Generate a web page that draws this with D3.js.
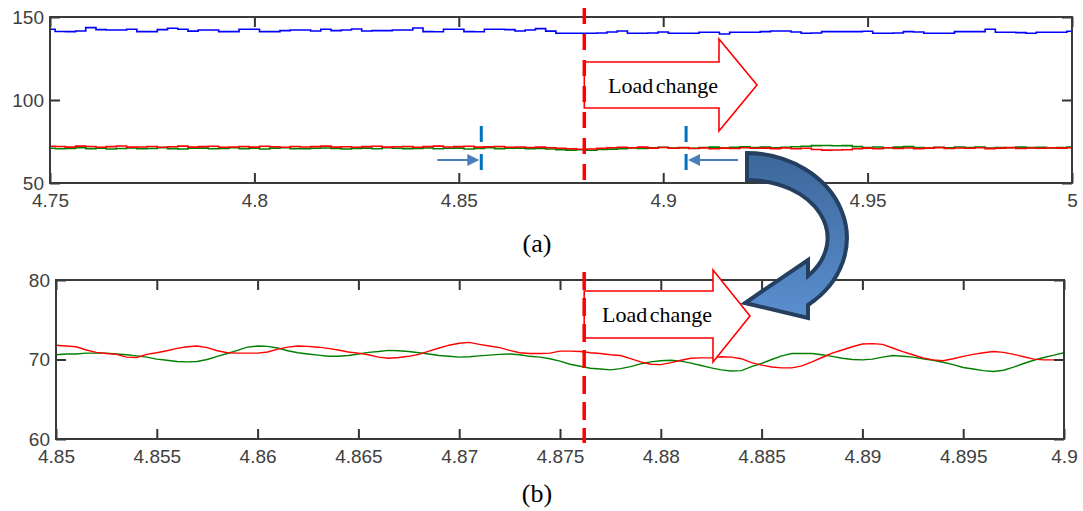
<!DOCTYPE html>
<html>
<head>
<meta charset="utf-8">
<script src="https://cdn.jsdelivr.net/npm/d3@7"></script>
<style>
  body { margin: 0; background: #fff; }
  svg { display: block; }
</style>
</head>
<body>
<div id="chart-container"></div>
<script>
/**************************************************
 * Data
 **************************************************/

// panel (a): samples every 0.0025 s from 4.75 to 5
const topStart = 4.75, topStep = 0.0025;
const blueTop = [
  142.6,141.3,141.2,141.6,143.6,142.4,142.2,142.2,142.6,141.2,
  141.2,142.4,143.2,142.6,141.5,142.2,142.2,141.2,141.2,142.6,
  142.6,141.2,141.2,141.8,142.2,142.2,141.6,142.6,141.8,142.2,
  142.8,141.6,141.8,141.8,142.2,142.2,143.4,141.2,141.1,142.6,
  142.6,141.2,141.1,142.6,142.6,142.4,141.6,142.2,143.0,141.5,
  140.2,140.2,140.2,140.2,140.4,141.0,141.6,140.2,140.2,140.4,
  141.0,140.2,140.2,140.2,140.8,140.8,139.8,140.8,140.8,140.8,
  141.2,141.6,141.6,141.0,140.2,140.4,141.2,141.2,141.2,141.2,
  141.4,140.2,140.2,140.4,141.2,141.0,140.2,140.2,140.2,141.2,
  141.2,141.2,142.6,140.8,140.8,140.6,140.2,140.8,140.8,140.8,
  141.4
];
const redTop = [
  72.1,72.0,71.6,72.2,72.0,71.5,71.9,72.3,71.6,71.7,
  72.0,71.5,71.8,72.2,71.6,71.9,72.1,71.5,71.7,72.0,
  71.6,72.1,71.8,71.5,72.0,71.7,71.9,72.2,71.6,71.8,
  71.5,71.9,72.1,71.6,71.8,72.0,71.5,71.9,72.2,71.7,
  71.9,72.1,71.6,71.8,72.0,71.5,71.7,71.4,71.6,71.2,
  70.9,70.6,70.3,70.5,70.9,71.2,71.5,71.2,71.6,71.0,
  71.4,70.9,71.2,70.8,71.1,70.6,71.0,70.8,71.2,70.9,
  71.0,70.7,71.1,70.6,70.9,70.2,69.8,69.9,70.0,70.6,
  71.0,70.6,71.2,70.8,71.1,70.7,71.0,71.3,70.8,71.1,
  70.9,71.2,70.7,71.0,71.3,70.8,71.1,70.9,71.2,71.0,
  71.2
];
const greenTop = [
  70.9,70.6,70.8,71.2,70.7,70.9,70.5,70.8,71.1,70.6,
  70.8,71.3,70.7,70.5,70.9,71.0,70.6,70.8,71.2,70.7,
  70.9,70.5,71.0,71.2,70.7,70.6,70.9,71.1,70.8,70.5,
  70.8,71.0,70.6,71.2,70.9,70.7,70.8,71.1,70.6,70.9,
  71.0,70.5,70.8,71.2,70.7,70.9,71.0,70.6,70.8,70.5,
  70.1,69.8,70.0,69.7,70.2,70.4,70.7,71.1,70.8,71.2,
  71.5,71.0,71.3,70.9,71.4,71.6,71.1,71.5,71.8,71.4,
  71.6,71.2,71.5,71.8,72.1,72.5,72.6,72.4,72.5,71.9,
  71.4,71.7,71.2,71.6,71.9,71.3,71.0,71.5,71.2,71.7,
  71.3,71.6,71.1,71.4,71.2,71.6,71.3,71.5,71.1,71.4,
  71.6
];

// panel (b): samples every 0.0005 s from 4.85 to 4.9
const botStart = 4.85, botStep = 0.0005;
const redBottom = [
  71.8,71.7,71.6,71.2,70.9,70.75,70.65,70.3,70.25,70.65,
  70.85,71.1,71.4,71.6,71.7,71.5,71.1,70.85,70.8,70.8,
  70.8,70.95,71.3,71.55,71.7,71.65,71.55,71.4,71.2,70.95,
  70.8,70.6,70.3,70.15,70.25,70.4,70.65,71.05,71.45,71.8,
  72.05,72.15,71.9,71.7,71.5,71.15,70.85,70.75,70.75,70.8,
  71.05,71.05,71.0,70.85,70.75,70.6,70.5,70.1,69.7,69.4,
  69.35,69.6,69.9,70.15,70.2,70.2,70.35,70.3,70.1,69.6,
  69.3,69.05,68.95,68.95,69.2,69.7,70.25,70.8,71.2,71.6,
  71.95,72.0,71.9,71.45,71.0,70.6,70.2,69.95,69.85,70.1,
  70.4,70.65,70.85,71.0,70.9,70.65,70.35,70.05,69.95,69.95,
  69.95
];
const greenBottom = [
  70.6,70.7,70.7,70.8,70.8,70.8,70.7,70.6,70.45,70.3,
  70.05,69.9,69.75,69.7,69.75,70.0,70.4,70.75,71.15,71.55,
  71.7,71.65,71.45,71.1,70.85,70.7,70.55,70.4,70.4,70.5,
  70.7,70.9,71.0,71.15,71.1,71.0,70.85,70.7,70.5,70.4,
  70.3,70.35,70.45,70.55,70.65,70.7,70.6,70.4,70.3,70.1,
  69.8,69.4,69.15,68.9,68.8,68.7,68.85,69.1,69.45,69.7,
  69.85,69.9,69.8,69.55,69.25,68.95,68.7,68.55,68.6,69.1,
  69.5,70.0,70.45,70.75,70.75,70.75,70.6,70.4,70.15,70.0,
  69.95,70.05,70.3,70.5,70.4,70.3,70.1,69.9,69.65,69.35,
  69.0,68.8,68.6,68.5,68.65,69.05,69.5,69.9,70.25,70.55,
  70.85
];

// ticks
const topXTicks = [4.75, 4.8, 4.85, 4.9, 4.95, 5];
const topXLabels = ["4.75", "4.8", "4.85", "4.9", "4.95", "5"];
const topYTicks = [50, 100, 150];
const botXTicks = [4.85, 4.855, 4.86, 4.865, 4.87, 4.875, 4.88, 4.885, 4.89, 4.895, 4.9];
const botXLabels = ["4.85", "4.855", "4.86", "4.865", "4.87", "4.875", "4.88", "4.885", "4.89", "4.895", "4.9"];
const botYTicks = [60, 70, 80];

// events
const loadTimeTop = 4.8807;
const loadTimeBottom = 4.8762;
const windowMarks = [4.8555, 4.9056];

/**************************************************
 * Rendering
 **************************************************/

const svg = d3.select("#chart-container")
  .append("svg")
  .attr("width", 1083)
  .attr("height", 511);

svg.append("rect").attr("width", 1083).attr("height", 511).attr("fill", "#fff");

const defs = svg.append("defs");

function drawPanel(p) {
  const x = d3.scaleLinear().domain(p.xDomain).range([p.left, p.right]);
  const y = d3.scaleLinear().domain(p.yDomain).range([p.bottom, p.top]);
  const g = svg.append("g");

  defs.append("clipPath").attr("id", p.id + "-clip")
    .append("rect")
    .attr("x", p.left).attr("y", p.top)
    .attr("width", p.right - p.left).attr("height", p.bottom - p.top);

  const lines = g.append("g").attr("clip-path", `url(#${p.id}-clip)`);
  p.series.forEach(s => {
    const line = d3.line()
      .x((d, i) => x(p.start + i * p.step))
      .y(d => y(d))
      .curve(p.curve);
    lines.append("path")
      .datum(s.values)
      .attr("fill", "none")
      .attr("stroke", s.color)
      .attr("stroke-width", s.width)
      .attr("d", line);
  });

  // axes with inward ticks
  const labelStyle = sel => sel.selectAll("text")
    .attr("font-family", "'Liberation Sans', Arial, sans-serif")
    .attr("font-size", "19px")
    .attr("fill", "#404040");
  const tickStyle = sel => {
    sel.select(".domain").remove();
    sel.selectAll("line").attr("stroke", "#333").attr("stroke-width", 2);
  };

  g.append("g").attr("transform", `translate(0,${p.bottom})`)
    .call(d3.axisBottom(x).tickValues(p.xTicks).tickSizeInner(-10).tickSizeOuter(0)
      .tickPadding(11).tickFormat((d, i) => p.xLabels[i]))
    .call(tickStyle).call(labelStyle);
  g.append("g").attr("transform", `translate(0,${p.top})`)
    .call(d3.axisTop(x).tickValues(p.xTicks).tickSizeInner(-10).tickSizeOuter(0).tickFormat(""))
    .call(tickStyle);
  g.append("g").attr("transform", `translate(${p.left},0)`)
    .call(d3.axisLeft(y).tickValues(p.yTicks).tickSizeInner(-10).tickSizeOuter(0)
      .tickPadding(6).tickFormat(d3.format("d")))
    .call(tickStyle).call(labelStyle);
  g.append("g").attr("transform", `translate(${p.right},0)`)
    .call(d3.axisRight(y).tickValues(p.yTicks).tickSizeInner(-10).tickSizeOuter(0).tickFormat(""))
    .call(tickStyle);

  g.append("rect")
    .attr("x", p.left).attr("y", p.top)
    .attr("width", p.right - p.left).attr("height", p.bottom - p.top)
    .attr("fill", "none")
    .attr("stroke", "#3a3a3a")
    .attr("stroke-width", 2);

  // load change marker
  const lx = x(p.loadTime);
  const a = p.arrow;
  g.append("path")
    .attr("d", `M${lx},${a.bodyTop} H${a.headX} V${a.headTop} L${a.tipX},${(a.headTop + a.headBottom) / 2}` +
      ` L${a.headX},${a.headBottom} V${a.bodyBottom} H${lx} Z`)
    .attr("fill", "#fff")
    .attr("stroke", "#ff0000")
    .attr("stroke-width", 1.6);
  g.append("text")
    .attr("x", a.textX).attr("y", (a.bodyTop + a.bodyBottom) / 2)
    .attr("text-anchor", "middle")
    .attr("dominant-baseline", "central")
    .attr("font-family", "'Liberation Serif', 'Times New Roman', serif")
    .attr("font-size", "22px")
    .attr("word-spacing", "-3px")
    .attr("fill", "#000")
    .text("Load change");
  g.append("line")
    .attr("x1", lx).attr("x2", lx)
    .attr("y1", p.dashTop).attr("y2", p.dashBottom)
    .attr("stroke", "#ff0000")
    .attr("stroke-width", 3.5)
    .attr("stroke-dasharray", p.dash);

  g.append("text")
    .attr("x", 537).attr("y", p.captionY)
    .attr("text-anchor", "middle")
    .attr("dominant-baseline", "central")
    .attr("font-family", "'Liberation Serif', 'Times New Roman', serif")
    .attr("font-size", "26px")
    .attr("fill", "#000")
    .text(p.caption);

  return { x, y, g };
}

const topPanel = drawPanel({
  id: "a", left: 50, right: 1072, top: 17, bottom: 183,
  xDomain: [4.75, 5], yDomain: [50, 150],
  xTicks: topXTicks, xLabels: topXLabels, yTicks: topYTicks,
  start: topStart, step: topStep, curve: d3.curveStep,
  series: [
    { values: blueTop, color: "#0000ff", width: 1.6 },
    { values: greenTop, color: "#008000", width: 1.6 },
    { values: redTop, color: "#ff0000", width: 1.6 }
  ],
  loadTime: loadTimeTop,
  arrow: { bodyTop: 62, bodyBottom: 108, headX: 719, headTop: 39, headBottom: 131, tipX: 757, textX: 663 },
  dashTop: 8, dashBottom: 184, dash: "16,10",
  caption: "(a)", captionY: 243
});

const botPanel = drawPanel({
  id: "b", left: 56, right: 1064, top: 280, bottom: 439,
  xDomain: [4.85, 4.9], yDomain: [60, 80],
  xTicks: botXTicks, xLabels: botXLabels, yTicks: botYTicks,
  start: botStart, step: botStep, curve: d3.curveLinear,
  series: [
    { values: greenBottom, color: "#008000", width: 1.4 },
    { values: redBottom, color: "#ff0000", width: 1.4 }
  ],
  loadTime: loadTimeBottom,
  arrow: { bodyTop: 291, bodyBottom: 338, headX: 713, headTop: 270, headBottom: 362, tipX: 750, textX: 657 },
  dashTop: 272, dashBottom: 443, dash: "18,8",
  caption: "(b)", captionY: 493
});

// window markers with small arrows in panel (a)
windowMarks.forEach((t, k) => {
  const mx = topPanel.x(t);
  topPanel.g.append("line")
    .attr("x1", mx).attr("x2", mx).attr("y1", 126).attr("y2", 171)
    .attr("stroke", "#0070c0").attr("stroke-width", 3)
    .attr("stroke-dasharray", "16,12");
  const dir = k === 0 ? 1 : -1;
  const tip = mx - dir * 2;
  const tail = tip - dir * (k === 0 ? 42 : 50);
  topPanel.g.append("line")
    .attr("x1", tail).attr("x2", tip - dir * 10).attr("y1", 160).attr("y2", 160)
    .attr("stroke", "#4a7ebb").attr("stroke-width", 2);
  topPanel.g.append("path")
    .attr("d", `M${tip},160 L${tip - dir * 12},154 L${tip - dir * 12},166 Z`)
    .attr("fill", "#4a7ebb");
});

// curved arrow linking (a) to (b)
const grad = defs.append("linearGradient")
  .attr("id", "curve-grad")
  .attr("x1", "0%").attr("y1", "0%").attr("x2", "0%").attr("y2", "100%");
grad.append("stop").attr("offset", "0%").attr("stop-color", "#3c679a");
grad.append("stop").attr("offset", "100%").attr("stop-color", "#5b8fd0");

svg.append("path")
  .attr("d", "M747,153 A101,85 0 0 1 808,305 L808,318 L745,303 L808,260 L808,276 A80,58 0 0 0 747,180 Z")
  .attr("fill", "url(#curve-grad)")
  .attr("stroke", "#243f60")
  .attr("stroke-width", 4)
  .attr("stroke-linejoin", "miter");
</script>
</body>
</html>
